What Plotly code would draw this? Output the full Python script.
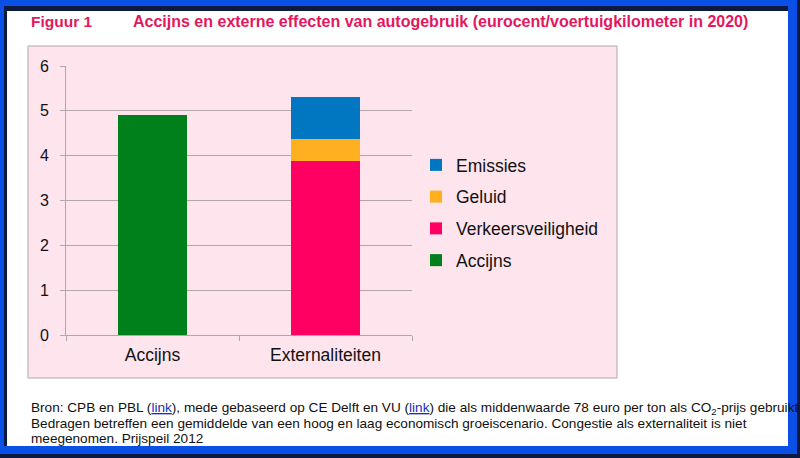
import plotly.graph_objects as go

categories = ["Accijns", "Externaliteiten"]
series_names = ["Accijns", "Verkeersveiligheid", "Geluid", "Emissies"]
accijns = [4.9, 0]
verkeersveiligheid = [0, 3.88]
geluid = [0, 0.50]
emissies = [0, 0.93]
y_ticks = [0, 1, 2, 3, 4, 5, 6]
colors = ["#00801a", "#ff0062", "#ffb020", "#0077c0"]
footnote_lines = [
    "Bron: CPB en PBL (<span style='color:#1a2fc0'><u>link</u></span>), mede gebaseerd op CE Delft en VU "
    "(<span style='color:#1a2fc0'><u>link</u></span>) die als middenwaarde 78 euro per ton als CO<sub>2</sub>-prijs gebruikt",
    "Bedragen betreffen een gemiddelde van een hoog en laag economisch groeiscenario. Congestie als externaliteit is niet",
    "meegenomen. Prijspeil 2012",
]

W, H = 800, 458
PX0, PX1, PY0, PY1 = 66, 412, 66, 335


def px(x):
    return (x - PX0) / (PX1 - PX0)


def py(y):
    return (PY1 - y) / (PY1 - PY0)


FONT = "Liberation Sans, Arial, sans-serif"

fig = go.Figure()
n = len(series_names)
for i, (name, vals, col) in enumerate(zip(series_names, [accijns, verkeersveiligheid, geluid, emissies], colors)):
    fig.add_trace(go.Bar(x=categories, y=vals, name=name, marker=dict(color=col, line=dict(width=0)),
                         width=0.4, legendgroup=name, legendrank=n - i))

shapes = []
shapes.append(dict(type="rect", xref="paper", yref="paper", x0=px(0), x1=px(800), y0=py(0), y1=py(458),
                   fillcolor="#0a4fe6", line=dict(width=0), layer="below"))
shapes.append(dict(type="rect", xref="paper", yref="paper", x0=px(797), x1=px(800), y0=py(0), y1=py(458),
                   fillcolor="#0a1a40", line=dict(width=0), layer="below"))
shapes.append(dict(type="rect", xref="paper", yref="paper", x0=px(0), x1=px(800), y0=py(454), y1=py(458),
                   fillcolor="#0a1a40", line=dict(width=0), layer="below"))
shapes.append(dict(type="rect", xref="paper", yref="paper", x0=px(4), x1=px(788), y0=py(6), y1=py(446),
                   fillcolor="#0a1a40", line=dict(width=0), layer="below"))
shapes.append(dict(type="rect", xref="paper", yref="paper", x0=px(7), x1=px(788), y0=py(11), y1=py(446),
                   fillcolor="white", line=dict(width=0), layer="below"))
shapes.append(dict(type="rect", xref="paper", yref="paper", x0=px(28), x1=px(617), y0=py(46), y1=py(378),
                   fillcolor="#fde4ed", line=dict(color="#b4a4ac", width=1), layer="below"))

annotations = [
    dict(text="<b>Figuur 1</b>", xref="paper", yref="paper", x=px(29), y=py(21), xanchor="left", yanchor="middle",
         showarrow=False, font=dict(family=FONT, size=15.5, color="#e3175c")),
    dict(text="<b>Accijns en externe effecten van autogebruik (eurocent/voertuigkilometer in 2020)</b>",
         xref="paper", yref="paper", x=px(131), y=py(21), xanchor="left", yanchor="middle",
         showarrow=False, font=dict(family=FONT, size=16, color="#e3175c")),
]
for i, line in enumerate(footnote_lines):
    annotations.append(dict(text=line, xref="paper", yref="paper", x=px(29), y=py(408.5 + 15 * i),
                            xanchor="left", yanchor="middle", align="left", showarrow=False,
                            font=dict(family=FONT, size=13.6, color="#111111")))

fig.update_layout(
    width=W, height=H,
    margin=dict(l=PX0, r=W - PX1, t=PY0, b=H - PY1, pad=0),
    barmode="stack",
    paper_bgcolor="white",
    plot_bgcolor="rgba(0,0,0,0)",
    font=dict(family=FONT, size=15, color="#111111"),
    showlegend=True,
    legend=dict(x=px(416), y=py(147), xanchor="left", yanchor="top", traceorder="grouped",
                bgcolor="rgba(0,0,0,0)", font=dict(family=FONT, size=17.5, color="#111111"),
                tracegroupgap=6, itemwidth=30),
    shapes=shapes,
    annotations=annotations,
    bargap=0.6,
)
fig.update_xaxes(range=[-0.5, 1.5], showline=True, linecolor="#b4a4ac", linewidth=1, ticks="outside",
                 tickson="boundaries", ticklen=5, tickcolor="#b4a4ac", showgrid=False, ticklabelstandoff=4,
                 tickfont=dict(family=FONT, size=17.5, color="#111111"))
fig.update_yaxes(range=[0, 6], tickvals=y_ticks, showline=True, linecolor="#b4a4ac", linewidth=1,
                 ticks="outside", ticklen=5, tickcolor="#b4a4ac", showgrid=True, gridcolor="#b4a4ac",
                 gridwidth=1, zeroline=False, ticklabelstandoff=8,
                 tickfont=dict(family=FONT, size=16, color="#111111"))

fig.write_html("out.html")
